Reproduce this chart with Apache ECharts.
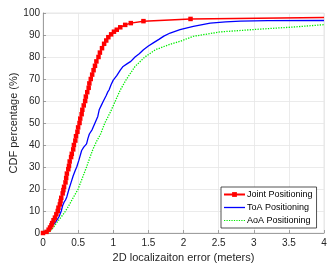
<!DOCTYPE html>
<html>
<head>
<meta charset="utf-8">
<script src="https://cdn.jsdelivr.net/npm/echarts@6/dist/echarts.min.js"></script>
<style>html,body{margin:0;padding:0;background:#fff}#c{width:333px;height:265px}</style>
</head>
<body>
<div id="c"></div>
<script>
var xTicks = [0, 0.5, 1, 1.5, 2, 2.5, 3, 3.5, 4];
var yTicks = [0, 10, 20, 30, 40, 50, 60, 70, 80, 90, 100];
var seriesNames = ['Joint Positioning', 'ToA Positioning', 'AoA Positioning'];

var jointX = [0,0.05,0.08,0.1,0.12,0.13,0.15,0.17,0.19,0.21,0.22,0.24,0.25,0.26,0.28,0.29,0.3,0.32,0.33,0.34,0.36,0.37,0.38,0.4,0.41,0.43,0.44,0.46,0.47,0.49,0.5,0.52,0.53,0.55,0.56,0.58,0.6,0.61,0.63,0.65,0.66,0.68,0.7,0.72,0.74,0.76,0.79,0.81,0.84,0.87,0.9,0.93,0.97,1.01,1.05,1.1,1.17,1.25,1.43,2.1,4];
var jointY = [0,0.5,1.5,2.5,3.5,4.5,5.8,7,8.5,10,11.5,13,14.5,16,18,19.5,21,23,25,27,29,30.5,32.5,34.5,36,38,40,42,44,46,48,50,52,54,56,58,60,62,64,66,68,70,72,74,76,78,80,82,84,86,87.5,89,90.3,91.5,92.4,93.5,94.6,95.4,96.3,97.3,97.9];

var toaX = [0,0.05,0.08,0.12,0.15,0.18,0.2,0.23,0.26,0.28,0.3,0.32,0.34,0.37,0.4,0.43,0.46,0.48,0.51,0.55,0.58,0.62,0.64,0.66,0.7,0.74,0.78,0.8,0.83,0.86,0.9,0.92,0.94,0.97,1.0,1.05,1.1,1.14,1.2,1.25,1.31,1.37,1.43,1.5,1.57,1.65,1.72,1.81,1.95,2.14,2.38,2.6,2.81,3.2,4];
var toaY = [0,0.5,1.5,3,4,5,6,7.5,10,12.5,14,15,16.5,20,23,26,28.5,30,33,37.5,39,40.5,43,45,47,50,53,56,58,60,62.5,64,65,67.5,69.5,71.5,74,75.7,77,78,80,81.5,83.3,85,86.4,88,89.5,90.9,92.4,93.9,95.4,96,96.3,96.5,96.6];

var aoaX = [0,0.07,0.12,0.16,0.19,0.24,0.3,0.36,0.42,0.5,0.56,0.62,0.67,0.71,0.76,0.82,0.88,0.96,1.03,1.1,1.19,1.31,1.45,1.6,1.81,1.95,2.14,2.52,3.1,3.6,4];
var aoaY = [0,0.3,1.5,3,4.5,6.5,9,12,15.5,20,25,30,34.5,38,41.5,45,50,55,60,65,70,75.7,80,83.3,85.8,87.1,89.4,91.4,92.7,93.7,94.7];

function pairs(xs, ys) { return xs.map(function (x, i) { return [x, ys[i]]; }); }

var FONT = 'Liberation Sans, Arial, Helvetica, sans-serif';
var solidIcon = 'path://M0,0H21V1.3H0Z';
var dottedIcon = 'path://M0,0h1.2v1.2h-1.2z M2.4,0h1.2v1.2h-1.2z M4.8,0h1.2v1.2h-1.2z M7.2,0h1.2v1.2h-1.2z M9.6,0h1.2v1.2h-1.2z M12,0h1.2v1.2h-1.2z M14.4,0h1.2v1.2h-1.2z M16.8,0h1.2v1.2h-1.2z M19.2,0h1.2v1.2h-1.2z';

var jointData = pairs(jointX, jointY);
// the curve runs on past the right edge; no marker sits at x = 4
jointData[jointData.length - 1] = {value: jointData[jointData.length - 1], symbol: 'none'};

var chart = echarts.init(document.getElementById('c'), null, {renderer: 'canvas'});
chart.setOption({
  animation: false,
  backgroundColor: '#fff',
  grid: {left: 43, right: 9, top: 13, bottom: 32, containLabel: false, outerBoundsMode: 'none',
         show: true, borderColor: '#e0e0e0', borderWidth: 0.8},
  xAxis: {
    type: 'value', min: 0, max: 4, interval: 0.5,
    name: '2D localizaiton error (meters)', nameLocation: 'middle', nameGap: 19, nameMoveOverlap: false,
    nameTextStyle: {fontFamily: FONT, fontSize: 11, color: '#262626'},
    axisLine: {show: true, onZero: false, lineStyle: {color: '#8c8c8c', width: 0.8}},
    axisTick: {show: true, inside: true, length: 3, lineStyle: {color: '#8c8c8c', width: 0.8}},
    axisLabel: {fontFamily: FONT, fontSize: 10, color: '#262626', margin: 5,
      formatter: function (v) { return xTicks.indexOf(v) >= 0 ? String(v) : ''; }},
    splitLine: {show: true, lineStyle: {color: '#e6e6e6', width: 0.8}}
  },
  yAxis: {
    type: 'value', min: 0, max: 100, interval: 10,
    name: 'CDF percentage (%)', nameLocation: 'middle', nameGap: 24, nameMoveOverlap: false,
    nameTextStyle: {fontFamily: FONT, fontSize: 11, color: '#262626'},
    axisLine: {show: true, onZero: false, lineStyle: {color: '#8c8c8c', width: 0.8}},
    axisTick: {show: true, inside: true, length: 3, lineStyle: {color: '#8c8c8c', width: 0.8}},
    axisLabel: {fontFamily: FONT, fontSize: 10, color: '#262626', margin: 3,
      formatter: function (v) { return yTicks.indexOf(v) >= 0 ? String(v) : ''; }},
    splitLine: {show: true, lineStyle: {color: '#e6e6e6', width: 0.8}}
  },
  legend: {
    orient: 'vertical', left: 221, top: 187,
    data: [
      {name: seriesNames[0]},
      {name: seriesNames[1], icon: solidIcon},
      {name: seriesNames[2], icon: dottedIcon}
    ],
    backgroundColor: '#fff', borderColor: '#262626', borderWidth: 0.8,
    padding: [3, 4, 3, 2], itemGap: 4, itemWidth: 21, itemHeight: 6,
    textStyle: {fontFamily: FONT, fontSize: 9, color: '#000', padding: [0, 0, 0, -3]}
  },
  series: [
    {name: seriesNames[0], type: 'line', data: jointData,
     lineStyle: {color: '#ff0000', width: 1.5}, itemStyle: {color: '#ff0000'},
     symbol: 'rect', symbolSize: 4.5, showSymbol: true, showAllSymbol: true, z: 4},
    {name: seriesNames[1], type: 'line', data: pairs(toaX, toaY),
     lineStyle: {color: '#0000ff', width: 1.3}, itemStyle: {color: '#0000ff'},
     symbol: 'none', z: 3},
    {name: seriesNames[2], type: 'line', data: pairs(aoaX, aoaY),
     lineStyle: {color: '#00ee00', width: 1.3, type: 'dotted'}, itemStyle: {color: '#00ee00'},
     symbol: 'none', z: 2}
  ]
});
</script>
</body>
</html>
